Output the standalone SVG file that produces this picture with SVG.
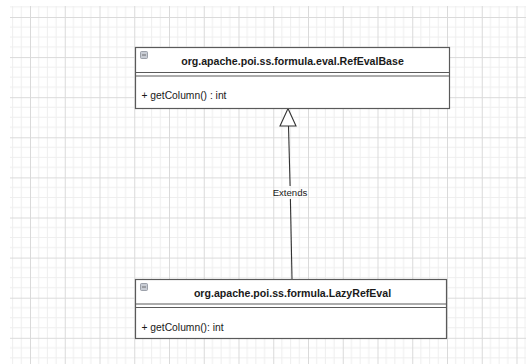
<svg xmlns="http://www.w3.org/2000/svg" width="526" height="364" viewBox="0 0 526 364">
  <style>
    .cls-box { fill: #ffffff; stroke: #5a5a5a; stroke-width: 1.2; }
    .cls-sep { stroke: #5a5a5a; stroke-width: 1.2; fill: none; }
    .cls-title { font-family: "Liberation Sans", Arial, sans-serif; font-size: 10.6px; font-weight: bold; fill: #1a1a1a; text-anchor: middle; }
    .cls-member { font-family: "Liberation Sans", Arial, sans-serif; font-size: 10.3px; fill: #1a1a1a; }
    .edge { stroke: #333333; stroke-width: 1.1; fill: none; }
    .edge-head { fill: #ffffff; stroke: #333333; stroke-width: 1.1; stroke-linejoin: miter; }
    .edge-label { font-family: "Liberation Sans", Arial, sans-serif; font-size: 9.6px; fill: #1a1a1a; text-anchor: middle; }
    .toggle { fill: #c8ccd4; stroke: #8a8f99; stroke-width: 0.8; }
  </style>
  <defs>
    <pattern id="grid" patternUnits="userSpaceOnUse" x="30" y="17" width="34.75" height="40.1">
      <g stroke="#eeeeee" stroke-width="1">
        <line x1="8.69" y1="0" x2="8.69" y2="40.1"/>
        <line x1="17.38" y1="0" x2="17.38" y2="40.1"/>
        <line x1="26.06" y1="0" x2="26.06" y2="40.1"/>
        <line x1="0" y1="10.03" x2="34.75" y2="10.03"/>
        <line x1="0" y1="20.05" x2="34.75" y2="20.05"/>
        <line x1="0" y1="30.08" x2="34.75" y2="30.08"/>
      </g>
      <g stroke="#dadada" stroke-width="1">
        <line x1="0.5" y1="0" x2="0.5" y2="40.1"/>
        <line x1="0" y1="0.5" x2="34.75" y2="0.5"/>
      </g>
    </pattern>
  </defs>

  <rect x="0" y="0" width="526" height="364" fill="#ffffff"/>
  <rect x="10" y="6" width="516" height="358" fill="url(#grid)"/>

  <!-- connectors -->
  <g id="connectors">
    <path class="edge" d="M292,279 L290.4,199"/>
    <path class="edge" d="M290.1,186 L288.5,126"/>
    <polygon class="edge-head" points="288,108.5 296,126 280,126"/>
    <text class="edge-label" x="290" y="195.5">Extends</text>
  </g>

  <!-- superclass -->
  <g id="node-refevalbase">
    <rect class="cls-box" x="135.5" y="47.5" width="314" height="61"/>
    <line class="cls-sep" x1="135.5" y1="72.5" x2="449.5" y2="72.5"/>
    <line class="cls-sep" x1="135.5" y1="76" x2="449.5" y2="76"/>
    <rect class="toggle" x="140.5" y="51.5" width="7" height="7" rx="1"/>
    <line x1="142" y1="55" x2="146" y2="55" stroke="#555" stroke-width="0.8"/>
    <text class="cls-title" x="292.5" y="64.5">org.apache.poi.ss.formula.eval.RefEvalBase</text>
    <text class="cls-member" x="141.5" y="98.5">+ getColumn() : int</text>
  </g>

  <!-- subclass -->
  <g id="node-lazyrefeval">
    <rect class="cls-box" x="135.5" y="279.5" width="311" height="59"/>
    <line class="cls-sep" x1="135.5" y1="304" x2="446.5" y2="304"/>
    <line class="cls-sep" x1="135.5" y1="307.5" x2="446.5" y2="307.5"/>
    <rect class="toggle" x="140.5" y="283.5" width="7" height="7" rx="1"/>
    <line x1="142" y1="287" x2="146" y2="287" stroke="#555" stroke-width="0.8"/>
    <text class="cls-title" x="292.5" y="296.5">org.apache.poi.ss.formula.LazyRefEval</text>
    <text class="cls-member" x="141.5" y="330.5">+ getColumn(): int</text>
  </g>
</svg>
